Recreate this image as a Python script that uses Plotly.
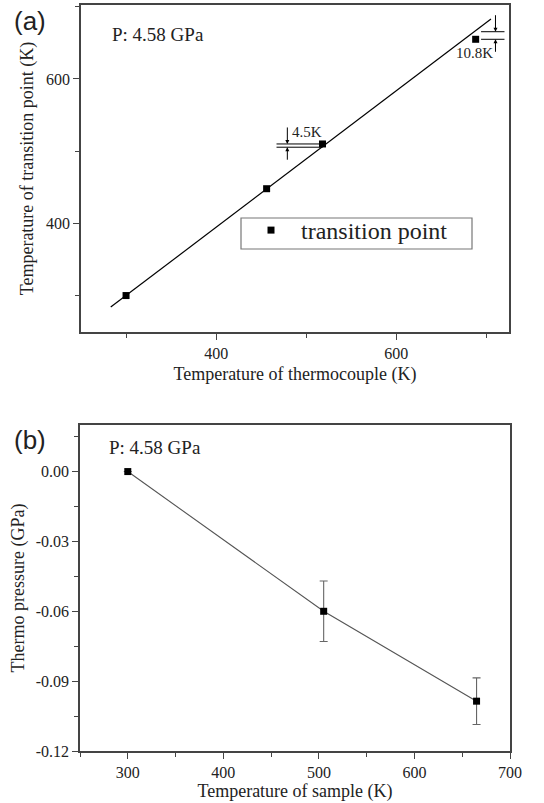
import plotly.graph_objects as go

# ---- Panel (a) data ----
tc_temp = [300, 456, 518, 688]          # thermocouple temperature (K)
tp_temp = [300, 448, 510, 655]          # transition point temperature (K)
fit_x = [283, 705]                      # calibration line ends
fit_y = [284, 683]
diff_labels = ["4.5K", "10.8K"]
diff_line = [505.5, 665.5]              # value of line at those points

# ---- Panel (b) data ----
sample_temp = [300, 505, 665]
thermo_p = [0.0, -0.060, -0.0986]
thermo_err = [0.0, 0.013, 0.010]
p_tickvals = [0.0, -0.03, -0.06, -0.09, -0.12]
p_ticktext = ["0.00", "-0.03", "-0.06", "-0.09", "-0.12"]

SERIF = "Liberation Serif"
W, H = 544, 803

fig = go.Figure()

fig.add_trace(go.Scatter(x=fit_x, y=fit_y, mode="lines",
                         line=dict(color="black", width=1.2),
                         showlegend=False, xaxis="x", yaxis="y"))
fig.add_trace(go.Scatter(x=tc_temp, y=tp_temp, mode="markers", name="transition point",
                         marker=dict(symbol="square", size=7, color="black"),
                         xaxis="x", yaxis="y"))

fig.add_trace(go.Scatter(x=sample_temp, y=thermo_p, mode="lines+markers",
                         line=dict(color="#555555", width=1.1),
                         marker=dict(symbol="square", size=7, color="black"),
                         error_y=dict(type="data", array=thermo_err, visible=True,
                                      color="#666666", thickness=1.1, width=4),
                         showlegend=False, xaxis="x2", yaxis="y2"))

axis_common = dict(showline=True, linecolor="#444444", linewidth=1.5, mirror=True,
                   showgrid=False, zeroline=False, ticks="outside", ticklen=6,
                   tickwidth=1.2, tickcolor="#444444",
                   tickfont=dict(family=SERIF, size=16, color="#222222"),
                   title_font=dict(family=SERIF, size=18, color="#222222"),
                   automargin=False)

dom_xa = [81 / W, 509 / W]
dom_ya = [1 - 332 / H, 1 - 5 / H]
dom_xb = [80 / W, 510 / W]
dom_yb = [1 - 751 / H, 1 - 425 / H]

rng_xa = [250, 725]
rng_ya = [249.5, 702.5]
rng_xb = [250, 700]
rng_yb = [-0.12, 0.02]

mirror_common = dict(showline=False, showgrid=False, zeroline=False, ticks="inside",
                     ticklen=6, tickwidth=1.2, tickcolor="#444444",
                     showticklabels=False)

fig.update_layout(
    width=W, height=H,
    margin=dict(l=0, r=0, t=0, b=0),
    paper_bgcolor="white", plot_bgcolor="white",
    xaxis=dict(axis_common, domain=dom_xa, anchor="y", range=rng_xa,
               tick0=0, dtick=200,
               minor=dict(ticks="outside", ticklen=4, dtick=100, tickcolor="#444444"),
               title=dict(text="Temperature of thermocouple (K)", standoff=6)),
    yaxis=dict(axis_common, domain=dom_ya, anchor="x", range=rng_ya,
               tick0=0, dtick=200,
               minor=dict(ticks="outside", ticklen=4, dtick=100, tickcolor="#444444"),
               title=dict(text="Temperature of transition point (K)", standoff=8)),
    xaxis3=dict(mirror_common, overlaying="x", side="top", anchor="y", range=rng_xa,
                tick0=0, dtick=200,
                minor=dict(ticks="inside", ticklen=4, dtick=100, tickcolor="#444444")),
    yaxis3=dict(mirror_common, overlaying="y", side="right", anchor="x", range=rng_ya,
                tick0=0, dtick=200,
                minor=dict(ticks="inside", ticklen=4, dtick=100, tickcolor="#444444")),
    xaxis2=dict(axis_common, domain=dom_xb, anchor="y2", range=rng_xb,
                tick0=0, dtick=100,
                minor=dict(ticks="outside", ticklen=4, dtick=50, tickcolor="#444444"),
                title=dict(text="Temperature of sample (K)", standoff=4)),
    yaxis2=dict(axis_common, domain=dom_yb, anchor="x2", range=rng_yb,
                tickmode="array", tickvals=p_tickvals, ticktext=p_ticktext,
                minor=dict(ticks="outside", ticklen=4, dtick=0.015, tick0=0,
                           tickcolor="#444444"),
                title=dict(text="Thermo pressure (GPa)", standoff=6)),
    xaxis4=dict(mirror_common, overlaying="x2", side="top", anchor="y2", range=rng_xb,
                tick0=0, dtick=100,
                minor=dict(ticks="inside", ticklen=4, dtick=50, tickcolor="#444444")),
    yaxis4=dict(mirror_common, overlaying="y2", side="right", anchor="x2", range=rng_yb,
                tick0=0, dtick=0.03,
                minor=dict(ticks="inside", ticklen=4, dtick=0.015, tickcolor="#444444")),
    legend=dict(x=241 / W, y=1 - 208 / H, xanchor="left", yanchor="top",
                borderwidth=0, bgcolor="rgba(0,0,0,0)",
                font=dict(family=SERIF, size=24, color="#222222"),
                itemwidth=50),
    showlegend=True,
)

# legend frame
fig.add_shape(type="rect", xref="paper", yref="paper",
              x0=241 / W, x1=472 / W, y0=1 - 249 / H, y1=1 - 218 / H,
              line=dict(color="#777777", width=1.2), fillcolor="rgba(0,0,0,0)")

# Difference markers (panel a)
seg_left = [467, 694]
seg_right = [518, 720]
arrow_x = [479, 710]
for i in range(2):
    y_pt = tp_temp[2 + i]
    y_ln = diff_line[i]
    top, bot = max(y_pt, y_ln), min(y_pt, y_ln)
    for yy in (top, bot):
        fig.add_shape(type="line", xref="x", yref="y", x0=seg_left[i], x1=seg_right[i],
                      y0=yy, y1=yy, line=dict(color="black", width=1))
    fig.add_annotation(x=arrow_x[i], y=top, xref="x", yref="y", ax=0, ay=-18,
                       showarrow=True, arrowhead=2, arrowsize=0.8, arrowwidth=1,
                       arrowcolor="black", text="")
    fig.add_annotation(x=arrow_x[i], y=bot, xref="x", yref="y", ax=0, ay=14,
                       showarrow=True, arrowhead=2, arrowsize=0.8, arrowwidth=1,
                       arrowcolor="black", text="")

fig.add_annotation(x=501, y=527, xref="x", yref="y", text=diff_labels[0], showarrow=False,
                   font=dict(family=SERIF, size=15, color="#222222"))
fig.add_annotation(x=687, y=636, xref="x", yref="y", text=diff_labels[1], showarrow=False,
                   font=dict(family=SERIF, size=15, color="#222222"))

# Text labels
fig.add_annotation(x=110 / W, y=1 - 35 / H, xref="paper", yref="paper", xanchor="left",
                   yanchor="middle", text="P: 4.58 GPa", showarrow=False,
                   font=dict(family=SERIF, size=19, color="#222222"))
fig.add_annotation(x=107 / W, y=1 - 447 / H, xref="paper", yref="paper", xanchor="left",
                   yanchor="middle", text="P: 4.58 GPa", showarrow=False,
                   font=dict(family=SERIF, size=19, color="#222222"))
fig.add_annotation(x=12 / W, y=1 - 21 / H, xref="paper", yref="paper", xanchor="left",
                   yanchor="middle", text="(a)", showarrow=False,
                   font=dict(family="Liberation Sans", size=26, color="#222222"))
fig.add_annotation(x=12 / W, y=1 - 440 / H, xref="paper", yref="paper", xanchor="left",
                   yanchor="middle", text="(b)", showarrow=False,
                   font=dict(family="Liberation Sans", size=26, color="#222222"))

fig.write_html("out.html")
